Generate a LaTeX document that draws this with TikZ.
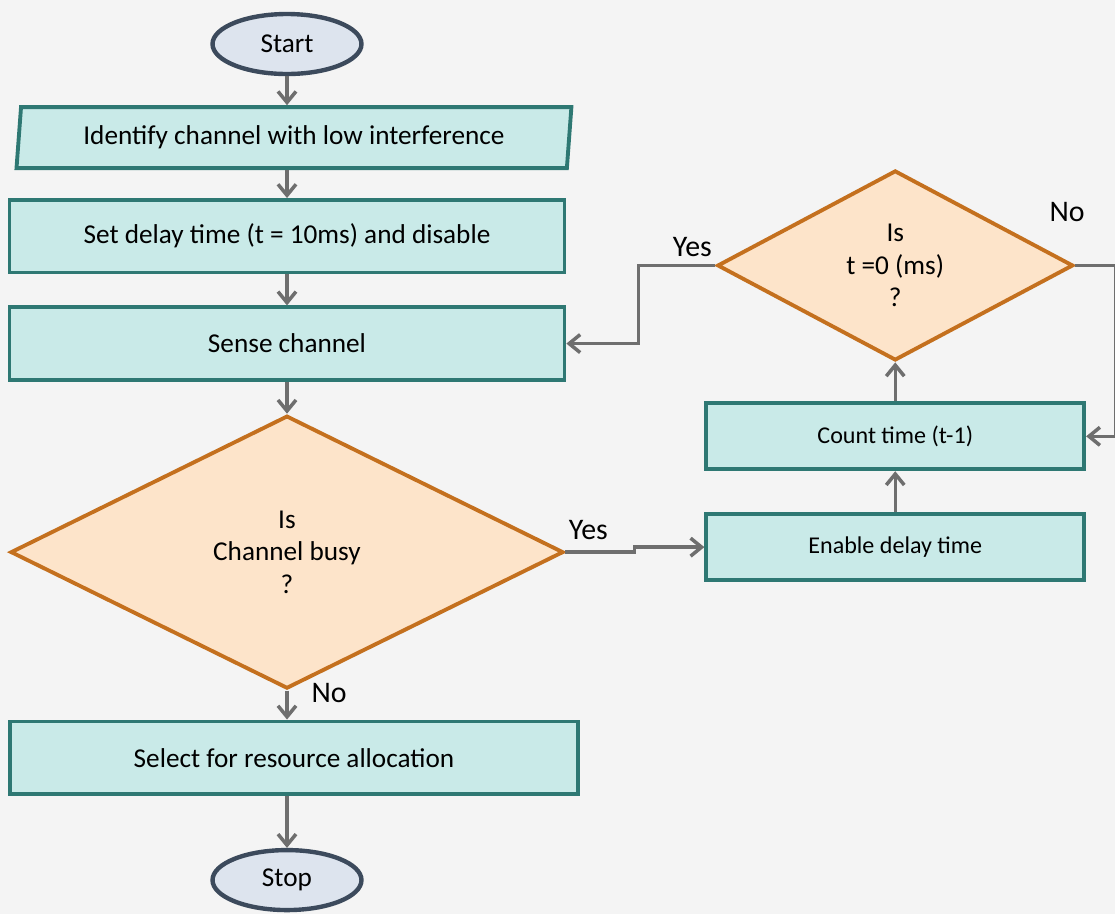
\documentclass[tikz,border=0pt]{standalone}
\usepackage{fontspec}
\setmainfont{Carlito}
\usetikzlibrary{shapes.geometric,positioning,arrows.meta}

\definecolor{boxfill}{HTML}{C9EAE8}
\definecolor{boxline}{HTML}{2E7873}
\definecolor{decfill}{HTML}{FDE4CA}
\definecolor{decline}{HTML}{C4701E}
\definecolor{termfill}{HTML}{DDE4EE}
\definecolor{termline}{HTML}{3C4A5C}
\definecolor{arrgray}{HTML}{6E6E6E}
\definecolor{bggray}{HTML}{F4F4F4}

\begin{document}
\begin{tikzpicture}[x=0.02cm, y=-0.02cm,
        box/.style = {
            draw=boxline, fill=boxfill,
            line width=2.2pt,
            minimum width=11.1cm,
            minimum height=1.45cm,
            inner sep=0pt,
            font=\fontsize{15.5}{19}\selectfont
        },
        smallbox/.style = {
            box,
            minimum width=7.56cm,
            minimum height=1.32cm,
            font=\fontsize{13.7}{17}\selectfont
        },
        io/.style = {
            box, trapezium,
            trapezium left angle=79, trapezium right angle=101,
            trapezium stretches body,
            minimum width=11.1cm, minimum height=1.22cm
        },
        decision/.style = {
            diamond, draw=decline, fill=decfill,
            line width=2.2pt, inner sep=0pt, align=center,
            font=\fontsize{15.5}{18.5}\selectfont
        },
        term/.style = {
            ellipse, draw=termline, fill=termfill,
            line width=2.5pt, inner sep=0pt,
            minimum width=2.98cm, minimum height=1.2cm,
            font=\fontsize{15.5}{19}\selectfont
        },
        lbl/.style = {inner sep=1pt, font=\fontsize{17}{20}\selectfont},
        >={Straight Barb[length=2.2mm, width=3.6mm]},
        arr/.style = {->, draw=arrgray, line width=2pt}]

        \useasboundingbox (0,0) rectangle (1115,914);
        \fill[bggray] (0,0) rectangle (1115,914);

        \node[term] (a) at (287,44) {Start};
        \node[io, below=0.58cm of a, xshift=0.14cm] (b) {Identify channel with low interference};
        \node[box, below=0.56cm of b, xshift=-0.14cm] (c) {Set delay time (t = 10ms) and disable};
        \node[box, below=0.62cm of c] (d) {Sense channel};
        \node[decision, below=0.64cm of d, minimum width=11.06cm, minimum height=5.46cm] (e) {Is\\Channel busy\\?};
        \node[box, below=0.58cm of e, xshift=0.14cm, minimum width=11.36cm] (f) {Select for resource allocation};
        \node[term, below=1.04cm of f, xshift=-0.14cm] (g) {Stop};

        \node[smallbox, right=2.78cm of e, yshift=0.1cm] (h) {Enable delay time};
        \node[smallbox, above=0.82cm of h] (i) {Count time (t-1)};
        \node[decision, above=0.78cm of i, minimum width=7.12cm, minimum height=3.8cm] (j) {Is\\t =0 (ms)\\?};

        \draw[arr] (a) -- (a |- b.north);
        \draw[arr] (c.north |- b.south) -- (c.north);
        \draw[arr] (c) -- (d);
        \draw[arr] (d) -- (e);
        \draw[arr] (e.south) node[lbl, anchor=west, xshift=0.42cm, yshift=-0.04cm] (no1) {No} -- (e.south |- f.north);
        \draw[arr] (g.north |- f.south) -- (g.north);
        \draw[arr] (e.east) node[lbl, anchor=south west, yshift=0.18cm] (yes1) {Yes} -- ++(69,0) |- (h.west);
        \draw[arr] (h) -- (i);
        \draw[arr] (i) -- (j);
        \draw[arr] (j.west) node[lbl, anchor=south east, yshift=0.1cm] (yes2) {Yes} -- ++(-77,0) |- (d.east);
        \draw[arr] (j.east) node[lbl, anchor=south, xshift=-0.16cm, yshift=0.8cm] (no2) {No} -- ++(41,0) |- (i.east);
    \end{tikzpicture}
\end{document}
